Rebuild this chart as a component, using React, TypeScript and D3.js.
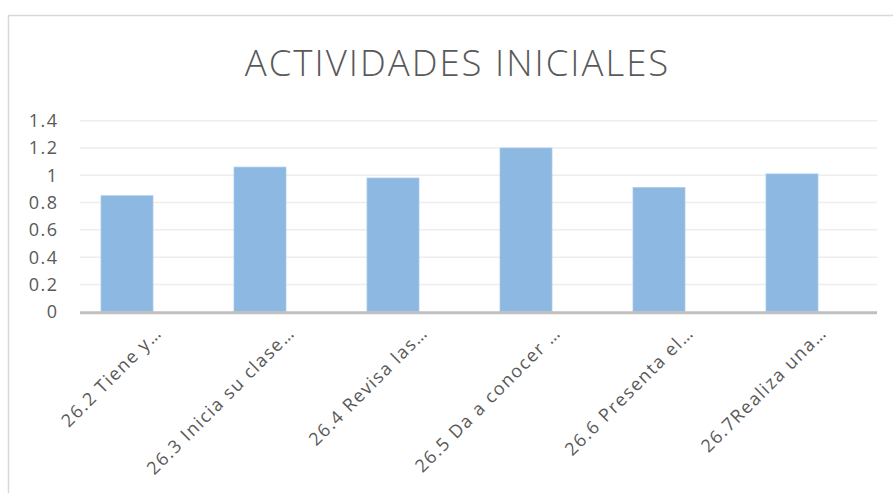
import React from "react";
import * as d3 from "d3";

const categories = [
  "26.2 Tiene y…",
  "26.3 Inicia su clase…",
  "26.4 Revisa las…",
  "26.5 Da a conocer …",
  "26.6 Presenta el…",
  "26.7Realiza una…",
];
const values = [0.85, 1.06, 0.98, 1.2, 0.91, 1.01];
const yTicks = [0, 0.2, 0.4, 0.6, 0.8, 1, 1.2, 1.4];
const title = "ACTIVIDADES INICIALES";

const W = 893;
const H = 493;
const FONT = "'Open Sans', 'DejaVu Sans', sans-serif";

export default function App() {
  const y = d3.scaleLinear().domain([0, 1.4]).range([311.7, 120.7]);
  const x = d3
    .scaleBand<string>()
    .domain(categories)
    .range([60.5, 858.5])
    .paddingInner(0.609)
    .paddingOuter(0.3045);
  const gridX0 = 80;
  const gridX1 = 877;

  return (
    <svg
      width={W}
      height={H}
      style={{ position: "absolute", left: 0, top: 0, background: "#fff" }}
    >
      <rect x={0} y={0} width={W} height={H} fill="#fff" />
      {/* chart border */}
      <path d={`M8.5,${H} V15.5 H${W}`} fill="none" stroke="#D9D9D9" strokeWidth={1.5} />
      <text
        x={457.5}
        y={76}
        textAnchor="middle"
        fontFamily={FONT}
        fontSize={36.5}
        fontWeight={300}
        letterSpacing={2}
        fill="#595959"
      >
        {title}
      </text>
      {/* gridlines */}
      {yTicks.map((t) =>
        t === 0 ? null : (
          <line
            key={t}
            x1={gridX0}
            x2={gridX1}
            y1={y(t)}
            y2={y(t)}
            stroke="#EDEDED"
            strokeWidth={1.5}
          />
        )
      )}
      {/* y tick labels */}
      {yTicks.map((t) => (
        <text
          key={"l" + t}
          x={58.5}
          y={y(t)}
          dy="0.36em"
          textAnchor="end"
          fontFamily={FONT}
          fontSize={18}
          letterSpacing={1.5}
          fill="#595959"
        >
          {d3.format("~g")(t)}
        </text>
      ))}
      {/* bars */}
      {categories.map((c, i) => (
        <rect
          key={c}
          x={x(c)}
          y={y(values[i])}
          width={x.bandwidth()}
          height={y(0) - y(values[i])}
          fill="#8CB8E1"
          stroke="#A9CBEA"
          strokeWidth={0.75}
        />
      ))}
      {/* x axis */}
      <line
        x1={gridX0}
        x2={gridX1}
        y1={y(0) + 1}
        y2={y(0) + 1}
        stroke="#BFBFBF"
        strokeWidth={3}
      />
      {/* category labels */}
      {categories.map((c) => {
        const cx = (x(c) as number) + x.bandwidth() / 2 + 36;
        const cy = 334;
        return (
          <text
            key={"c" + c}
            transform={`translate(${cx},${cy}) rotate(-45)`}
            textAnchor="end"
            fontFamily={FONT}
            fontSize={18}
            letterSpacing={1.5}
            fill="#595959"
          >
            {c}
          </text>
        );
      })}
    </svg>
  );
}
